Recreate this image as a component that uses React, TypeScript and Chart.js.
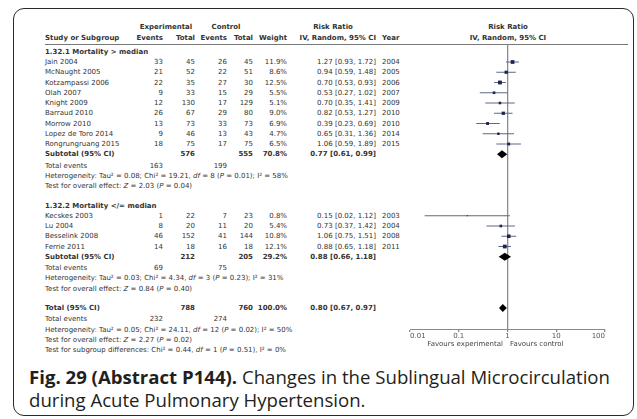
import React, { useEffect, useRef } from "react";
import { Chart, registerables } from "chart.js";

Chart.register(...registerables);

// ---------------- DATA ----------------
const group1Title = "1.32.1 Mortality > median";
const group1Studies = ["Jain 2004", "McNaught 2005", "Kotzampassi 2006", "Olah 2007", "Knight 2009", "Barraud 2010", "Morrow 2010", "Lopez de Toro 2014", "Rongrungruang 2015"];
const group1ExpEvents = [33, 21, 22, 9, 12, 26, 13, 9, 18];
const group1ExpTotal = [45, 52, 35, 33, 130, 67, 73, 46, 75];
const group1CtrlEvents = [26, 22, 27, 15, 17, 29, 33, 13, 17];
const group1CtrlTotal = [45, 51, 30, 29, 129, 80, 73, 43, 75];
const group1Weight = [11.9, 8.6, 12.5, 5.5, 5.1, 9.0, 6.9, 4.7, 6.5];
const group1RR = [1.27, 0.94, 0.70, 0.53, 0.70, 0.82, 0.39, 0.65, 1.06];
const group1Lo = [0.93, 0.59, 0.53, 0.27, 0.35, 0.53, 0.23, 0.31, 0.59];
const group1Hi = [1.72, 1.48, 0.93, 1.02, 1.41, 1.27, 0.69, 1.36, 1.89];
const group1Year = [2004, 2005, 2006, 2007, 2009, 2010, 2010, 2014, 2015];

const group2Title = "1.32.2 Mortality </= median";
const group2Studies = ["Kecskes 2003", "Lu 2004", "Besselink 2008", "Ferrie 2011"];
const group2ExpEvents = [1, 8, 46, 14];
const group2ExpTotal = [22, 20, 152, 18];
const group2CtrlEvents = [7, 11, 41, 16];
const group2CtrlTotal = [23, 20, 144, 18];
const group2Weight = [0.8, 5.4, 10.8, 12.1];
const group2RR = [0.15, 0.73, 1.06, 0.88];
const group2Lo = [0.02, 0.37, 0.75, 0.65];
const group2Hi = [1.12, 1.42, 1.51, 1.18];
const group2Year = [2003, 2004, 2008, 2011];

// summaries: [group1 subtotal, group2 subtotal, overall total]
const summaryLabels = ["Subtotal (95% CI)", "Subtotal (95% CI)", "Total (95% CI)"];
const summaryExpTotal = [576, 212, 788];
const summaryCtrlTotal = [555, 205, 760];
const summaryWeight = [70.8, 29.2, 100.0];
const summaryRR = [0.77, 0.88, 0.80];
const summaryLo = [0.61, 0.66, 0.67];
const summaryHi = [0.99, 1.18, 0.97];
const summaryExpEvents = [163, 69, 232];
const summaryCtrlEvents = [199, 75, 274];
const heterogeneityText = [
  ["Heterogeneity: Tau\u00b2 = 0.08; Chi\u00b2 = 19.21, ", "df", " = 8 (", "P", " = 0.01); I\u00b2 = 58%"],
  ["Heterogeneity: Tau\u00b2 = 0.03; Chi\u00b2 = 4.34, ", "df", " = 3 (", "P", " = 0.23); I\u00b2 = 31%"],
  ["Heterogeneity: Tau\u00b2 = 0.05; Chi\u00b2 = 24.11, ", "df", " = 12 (", "P", " = 0.02); I\u00b2 = 50%"],
];
const overallEffectZ = ["2.03", "0.84", "2.27"];
const overallEffectP = ["0.04", "0.40", "0.02"];
const subgroupTest = ["Test for subgroup differences: Chi\u00b2 = 0.44, ", "df", " = 1 (", "P", " = 0.51), I\u00b2 = 0%"];

const tickValues = [0.01, 0.1, 1, 10, 100];
const tickLabels = ["0.01", "0.1", "1", "10", "100"];
const favoursLeft = "Favours experimental";
const favoursRight = "Favours control";

// ---------------- LAYOUT ----------------
const ROW0 = 51.75;
const ROWH = 10.25;
const rowY = (s: number) => ROW0 + ROWH * s;
const G1 = 0; // slot of group 1 title
const G2 = 15;
const TOT = 25;
const PLOT_TOP = 44;
const PLOT_BOTTOM = 329;
const CANVAS_LEFT = 400;
const CANVAS_TOP = 40;
const CANVAS_W = 215;
const XAXIS_H = 16;
const PAD_L = 10;
const PAD_R = 10;
const Y_MIN = (PLOT_TOP - ROW0) / ROWH;
const Y_MAX = (PLOT_BOTTOM - ROW0) / ROWH;

const COL_EXP_EV = 163;
const COL_EXP_TOT = 195;
const COL_CTL_EV = 227;
const COL_CTL_TOT = 253;
const COL_W = 287;
const COL_RR = 376;
const COL_YEAR = 382;
const COL_STUDY = 45;

const FS = 7;
const TXT = "#333";

type TP = { x: number; y: number; a?: "left" | "right" | "center"; b?: boolean; c?: string; children: React.ReactNode };
function T({ x, y, a = "left", b = false, c, children }: TP) {
  const style: React.CSSProperties = {
    position: "absolute",
    top: y,
    whiteSpace: "nowrap",
    lineHeight: 1,
    fontWeight: b ? "bold" : "normal",
    color: c || TXT,
  };
  if (a === "left") {
    style.left = x;
    style.transform = "translateY(-50%)";
  } else if (a === "right") {
    style.right = 637 - x;
    style.transform = "translateY(-50%)";
  } else {
    style.left = x;
    style.transform = "translate(-50%, -50%)";
  }
  return <div style={style}>{children}</div>;
}

function StatLine({ parts }: { parts: string[] }) {
  return (
    <>
      {parts.map((p, i) => (i % 2 === 1 ? <i key={i}>{p}</i> : <span key={i}>{p}</span>))}
    </>
  );
}

function StudyRows({ start, studies, ee, et, ce, ct, w, rr, lo, hi, yr }: any) {
  return (
    <>
      {studies.map((name: string, i: number) => {
        const y = rowY(start + 1 + i);
        return (
          <React.Fragment key={name}>
            <T x={COL_STUDY} y={y}>{name}</T>
            <T x={COL_EXP_EV} y={y} a="right">{ee[i]}</T>
            <T x={COL_EXP_TOT} y={y} a="right">{et[i]}</T>
            <T x={COL_CTL_EV} y={y} a="right">{ce[i]}</T>
            <T x={COL_CTL_TOT} y={y} a="right">{ct[i]}</T>
            <T x={COL_W} y={y} a="right">{w[i].toFixed(1)}%</T>
            <T x={COL_RR} y={y} a="right">{`${rr[i].toFixed(2)} [${lo[i].toFixed(2)}, ${hi[i].toFixed(2)}]`}</T>
            <T x={COL_YEAR} y={y}>{yr[i]}</T>
          </React.Fragment>
        );
      })}
    </>
  );
}

function SummaryBlock({ k, slot }: { k: number; slot: number }) {
  const y = rowY(slot);
  return (
    <>
      <T x={COL_STUDY} y={y} b>{summaryLabels[k]}</T>
      <T x={COL_EXP_TOT} y={y} a="right" b>{summaryExpTotal[k]}</T>
      <T x={COL_CTL_TOT} y={y} a="right" b>{summaryCtrlTotal[k]}</T>
      <T x={COL_W} y={y} a="right" b>{summaryWeight[k].toFixed(1)}%</T>
      <T x={COL_RR} y={y} a="right" b>{`${summaryRR[k].toFixed(2)} [${summaryLo[k].toFixed(2)}, ${summaryHi[k].toFixed(2)}]`}</T>
      <T x={COL_STUDY} y={rowY(slot + 1) + 1}>Total events</T>
      <T x={COL_EXP_EV} y={rowY(slot + 1) + 1} a="right">{summaryExpEvents[k]}</T>
      <T x={COL_CTL_EV} y={rowY(slot + 1) + 1} a="right">{summaryCtrlEvents[k]}</T>
      <T x={COL_STUDY} y={rowY(slot + 2) + 1}><StatLine parts={heterogeneityText[k]} /></T>
      <T x={COL_STUDY} y={rowY(slot + 3) + 1}>
        Test for overall effect: <i>Z</i> = {overallEffectZ[k]} (<i>P</i> = {overallEffectP[k]})
      </T>
    </>
  );
}

function ForestChart() {
  const ref = useRef<HTMLCanvasElement | null>(null);
  useEffect(() => {
    if (!ref.current) return;
    const squares: any[] = [];
    const sizes: number[] = [];
    const ciSets: any[] = [];
    const addGroup = (start: number, rr: number[], lo: number[], hi: number[], w: number[]) => {
      rr.forEach((v, i) => {
        const s = start + 1 + i;
        squares.push({ x: v, y: s });
        sizes.push(w[i]);
        ciSets.push({
          type: "scatter",
          showLine: true,
          data: [{ x: lo[i], y: s }, { x: hi[i], y: s }],
          borderColor: "#5f6784",
          borderWidth: 1,
          pointRadius: 0,
          order: 2,
        });
      });
    };
    addGroup(G1, group1RR, group1Lo, group1Hi, group1Weight);
    addGroup(G2, group2RR, group2Lo, group2Hi, group2Weight);
    const summarySlots = [G1 + 10, G2 + 5, TOT];

    const diamondPlugin = {
      id: "diamonds",
      afterDatasetsDraw(chart: any) {
        const { ctx, scales } = chart;
        const xs = scales.x;
        const ys = scales.y;
        ctx.save();
        ctx.fillStyle = "#000";
        summaryRR.forEach((est, k) => {
          const s = summarySlots[k];
          const h = 0.4;
          ctx.beginPath();
          ctx.moveTo(xs.getPixelForValue(summaryLo[k]), ys.getPixelForValue(s));
          ctx.lineTo(xs.getPixelForValue(est), ys.getPixelForValue(s - h));
          ctx.lineTo(xs.getPixelForValue(summaryHi[k]), ys.getPixelForValue(s));
          ctx.lineTo(xs.getPixelForValue(est), ys.getPixelForValue(s + h));
          ctx.closePath();
          ctx.fill();
        });
        ctx.restore();
      },
    };

    const chart = new Chart(ref.current, {
      type: "scatter",
      data: {
        datasets: [
          {
            data: squares,
            pointStyle: "rect",
            pointRadius: (c: any) => (1.0 * Math.sqrt(sizes[c.dataIndex] || 1)) / Math.SQRT2 + 0.2,
            backgroundColor: "#1b2454",
            borderWidth: 0,
            order: 1,
          } as any,
          ...ciSets,
        ],
      },
      options: {
        animation: false,
        responsive: false,
        maintainAspectRatio: false,
        events: [],
        layout: { padding: { left: PAD_L, right: PAD_R, top: PLOT_TOP - CANVAS_TOP, bottom: 0 } },
        plugins: { legend: { display: false }, tooltip: { enabled: false } },
        scales: {
          x: {
            type: "logarithmic",
            min: 0.01,
            max: 100,
            afterBuildTicks: (scale: any) => {
              scale.ticks = tickValues.map((v) => ({ value: v }));
            },
            afterFit: (scale: any) => {
              scale.height = XAXIS_H;
            },
            border: { color: "#8a8a8a", width: 1 },
            grid: {
              drawOnChartArea: true,
              color: (c: any) => (c.tick && c.tick.value === 1 ? "#8c8c8c" : "rgba(0,0,0,0)"),
              lineWidth: 1.3,
              tickColor: "#8a8a8a",
              tickLength: 3,
            },
            ticks: {
              autoSkip: false,
              maxRotation: 0,
              align: "inner",
              padding: 0,
              color: "#555",
              font: { family: "DejaVu Sans", size: FS },
              callback: (v: any) => {
                const i = tickValues.indexOf(Number(v));
                return i >= 0 ? tickLabels[i] : "";
              },
            },
          },
          y: { type: "linear", reverse: true, min: Y_MIN, max: Y_MAX, display: false },
        },
      } as any,
      plugins: [diamondPlugin],
    });
    return () => chart.destroy();
  }, []);
  const h = PLOT_BOTTOM - CANVAS_TOP + XAXIS_H;
  return (
    <canvas
      ref={ref}
      width={CANVAS_W}
      height={h}
      style={{ position: "absolute", left: CANVAS_LEFT, top: CANVAS_TOP, width: CANVAS_W, height: h }}
    />
  );
}

export default function App() {
  return (
    <div
      style={{
        position: "absolute",
        left: 0,
        top: 0,
        width: 637,
        height: 419,
        background: "#fff",
        overflow: "hidden",
        fontFamily: "'DejaVu Sans', sans-serif",
        fontSize: FS,
        color: TXT,
      }}
    >
      <div
        style={{
          position: "absolute",
          left: 13,
          top: 8,
          width: 621,
          height: 408,
          border: "1.5px solid #2a2a2a",
          borderRadius: 11,
          boxSizing: "border-box",
        }}
      />
      {/* headers */}
      <T x={166} y={27} a="center" b>Experimental</T>
      <T x={226} y={27} a="center" b>Control</T>
      <T x={333} y={27} a="center" b>Risk Ratio</T>
      <T x={508} y={27} a="center" b>Risk Ratio</T>
      <T x={COL_STUDY} y={38} b>Study or Subgroup</T>
      <T x={COL_EXP_EV} y={38} a="right" b>Events</T>
      <T x={COL_EXP_TOT} y={38} a="right" b>Total</T>
      <T x={COL_CTL_EV} y={38} a="right" b>Events</T>
      <T x={COL_CTL_TOT} y={38} a="right" b>Total</T>
      <T x={COL_W} y={38} a="right" b>Weight</T>
      <T x={COL_RR} y={38} a="right" b>IV, Random, 95% CI</T>
      <T x={COL_YEAR} y={38} b>Year</T>
      <T x={508} y={38} a="center" b>IV, Random, 95% CI</T>
      <div style={{ position: "absolute", left: COL_STUDY, top: 43.5, width: 628 - COL_STUDY, height: 1, background: "#777" }} />

      <T x={COL_STUDY} y={rowY(G1)} b>{group1Title}</T>
      <StudyRows start={G1} studies={group1Studies} ee={group1ExpEvents} et={group1ExpTotal} ce={group1CtrlEvents} ct={group1CtrlTotal} w={group1Weight} rr={group1RR} lo={group1Lo} hi={group1Hi} yr={group1Year} />
      <SummaryBlock k={0} slot={G1 + 10} />

      <T x={COL_STUDY} y={rowY(G2)} b>{group2Title}</T>
      <StudyRows start={G2} studies={group2Studies} ee={group2ExpEvents} et={group2ExpTotal} ce={group2CtrlEvents} ct={group2CtrlTotal} w={group2Weight} rr={group2RR} lo={group2Lo} hi={group2Hi} yr={group2Year} />
      <SummaryBlock k={1} slot={G2 + 5} />

      <SummaryBlock k={2} slot={TOT} />
      <T x={COL_STUDY} y={rowY(TOT + 4) + 1}><StatLine parts={subgroupTest} /></T>

      <ForestChart />
      <T x={503} y={344} a="right" c="#444">{favoursLeft}</T>
      <T x={510} y={344} c="#444">{favoursRight}</T>

      <div
        style={{
          position: "absolute",
          left: 29,
          top: 366,
          fontFamily: "'Open Sans', sans-serif",
          fontSize: 18.6,
          lineHeight: "22.5px",
          color: "#231f20",
          whiteSpace: "nowrap",
        }}
      >
        <b>Fig. 29 (Abstract P144).</b> Changes in the Sublingual Microcirculation
        <br />
        during Acute Pulmonary Hypertension.
      </div>
    </div>
  );
}
